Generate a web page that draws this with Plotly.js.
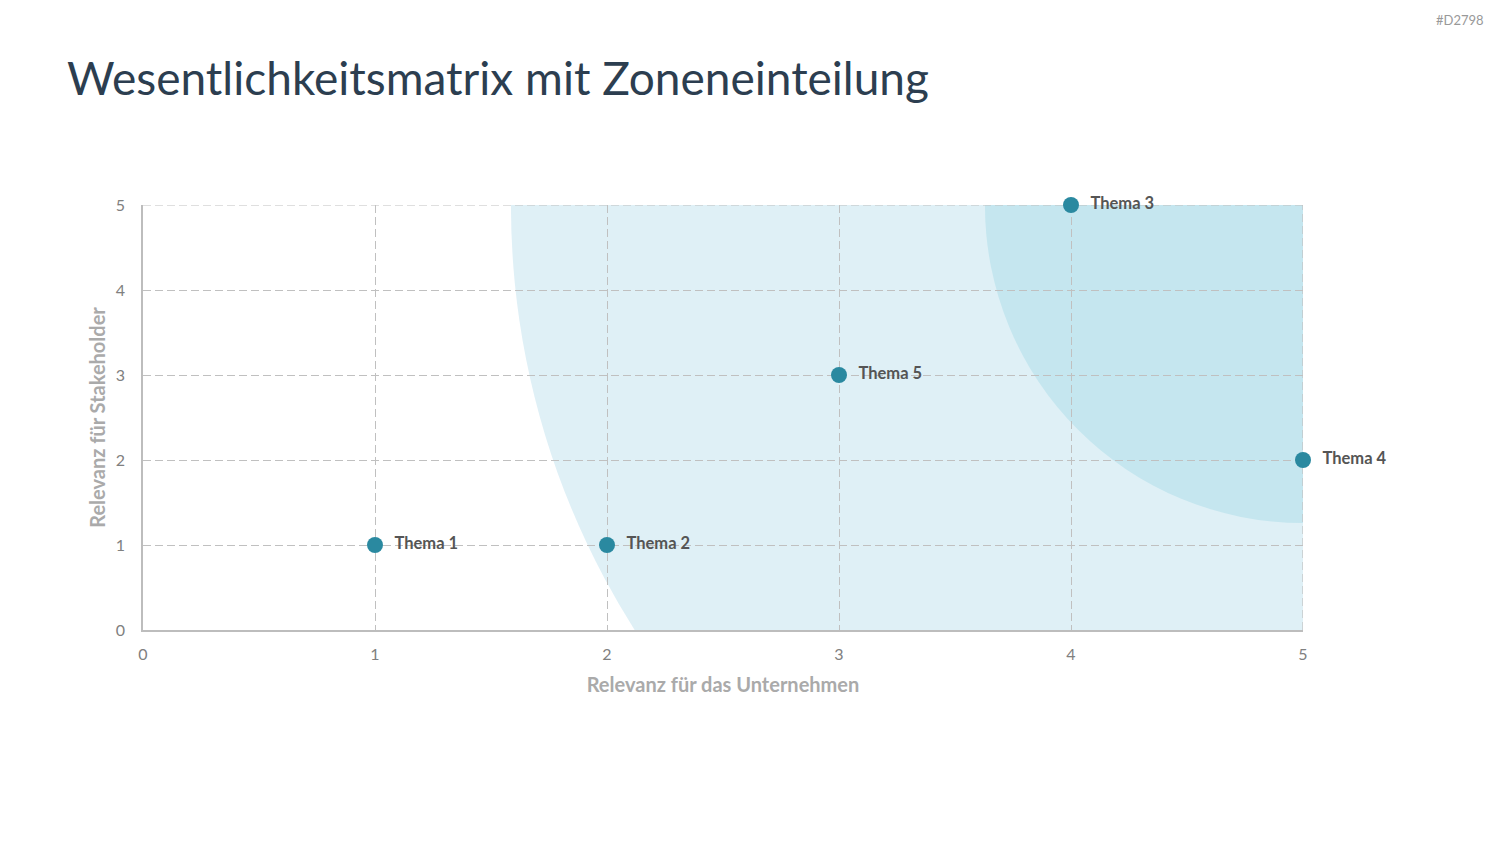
<!DOCTYPE html>
<html>
<head>
<meta charset="utf-8">
<script src="https://cdn.plot.ly/plotly-3.0.1.min.js"></script>
<style>
  html, body { margin: 0; padding: 0; background: #ffffff; }
  #chart { width: 1500px; height: 844px; }
</style>
</head>
<body>
<div id="chart"></div>
<script>
// Topics positioned by relevance for the company (x) and for stakeholders (y)
const topics = ["Thema 1", "Thema 2", "Thema 3", "Thema 4", "Thema 5"];
const companyRelevance = [1, 2, 4, 5, 3];
const stakeholderRelevance = [1, 1, 5, 2, 3];

const tickValues = [0, 1, 2, 3, 4, 5];
const tickLabels = ["0", "1", "2", "3", "4", "5"];

// Zones: elliptical arcs around the top-right corner (radii in axis units)
const zoneCorner = [5, 5];
const outerZoneRadius = [3.414, 9.318];
const innerZoneRadius = [1.371, 3.741];

const FONT = "Lato, 'Open Sans', sans-serif";
const GRID_COLOR = "#c0c0c0";
const GRID_DASH = "8px,4px";

function zoneShape(radius, color) {
  return {
    type: "circle", xref: "x", yref: "y", layer: "below",
    x0: zoneCorner[0] - radius[0], x1: zoneCorner[0] + radius[0],
    y0: zoneCorner[1] - radius[1], y1: zoneCorner[1] + radius[1],
    fillcolor: color, line: { width: 0 }
  };
}

// Plotly skips the gridline that sits on the far edge, so the last one is added as a shape
const lo = tickValues[0], hi = tickValues[tickValues.length - 1];
function edgeGrid(axis) {
  const s = { type: "line", xref: "x", yref: "y", layer: "between",
              line: { color: GRID_COLOR, width: 1.2, dash: GRID_DASH } };
  if (axis === "x") Object.assign(s, { x0: hi, x1: hi, y0: lo, y1: hi });
  else Object.assign(s, { x0: lo, x1: hi, y0: hi, y1: hi });
  return s;
}

const trace = {
  type: "scatter",
  mode: "markers+text",
  x: companyRelevance,
  y: stakeholderRelevance,
  text: topics.map(t => "  <b>" + t + "</b>"),
  textposition: "middle right",
  textfont: { family: FONT, size: 16.5, color: "#555555" },
  marker: { size: 16, color: "#2a89a0" },
  cliponaxis: false,
  hoverinfo: "x+y+text",
  showlegend: false
};

const axisBase = {
  range: [0, 5],
  tickmode: "array",
  tickvals: tickValues,
  ticktext: tickLabels,
  showgrid: true,
  gridcolor: GRID_COLOR,
  griddash: GRID_DASH,
  gridwidth: 1.2,
  zeroline: false,
  showline: true,
  linecolor: "#bdbdbd",
  linewidth: 1.5,
  ticks: "",
  tickfont: { family: FONT, size: 16, color: "#808080" },
  fixedrange: true
};

const layout = {
  width: 1500,
  height: 844,
  paper_bgcolor: "#ffffff",
  plot_bgcolor: "rgba(0,0,0,0)",
  margin: { l: 143, r: 197, t: 205, b: 214 },
  font: { family: FONT },
  xaxis: Object.assign({}, axisBase, {
    ticklabelstandoff: 9,
    title: { text: "<b>Relevanz für das Unternehmen</b>", font: { family: FONT, size: 20, color: "#aaaaaa" }, standoff: 16 }
  }),
  yaxis: Object.assign({}, axisBase, {
    ticklabelstandoff: 13,
    title: { text: "<b>Relevanz für Stakeholder</b>", font: { family: FONT, size: 20, color: "#aaaaaa" }, standoff: 5 }
  }),
  shapes: [
    zoneShape(outerZoneRadius, "#dff0f6"),
    zoneShape(innerZoneRadius, "#c5e6ef"),
    edgeGrid("x"),
    edgeGrid("y")
  ],
  annotations: [
    {
      text: "Wesentlichkeitsmatrix mit Zoneneinteilung",
      xref: "paper", yref: "paper", x: -0.067, y: 1.299,
      xanchor: "left", yanchor: "middle", showarrow: false,
      font: { family: FONT, size: 46, color: "#2c3e50" }
    },
    {
      text: "#D2798",
      xref: "paper", yref: "paper", x: 1.1578, y: 1.435,
      xanchor: "right", yanchor: "middle", showarrow: false,
      font: { family: FONT, size: 13, color: "#999999" }
    }
  ]
};

Plotly.newPlot("chart", [trace], layout, { displayModeBar: false });
</script>
</body>
</html>
